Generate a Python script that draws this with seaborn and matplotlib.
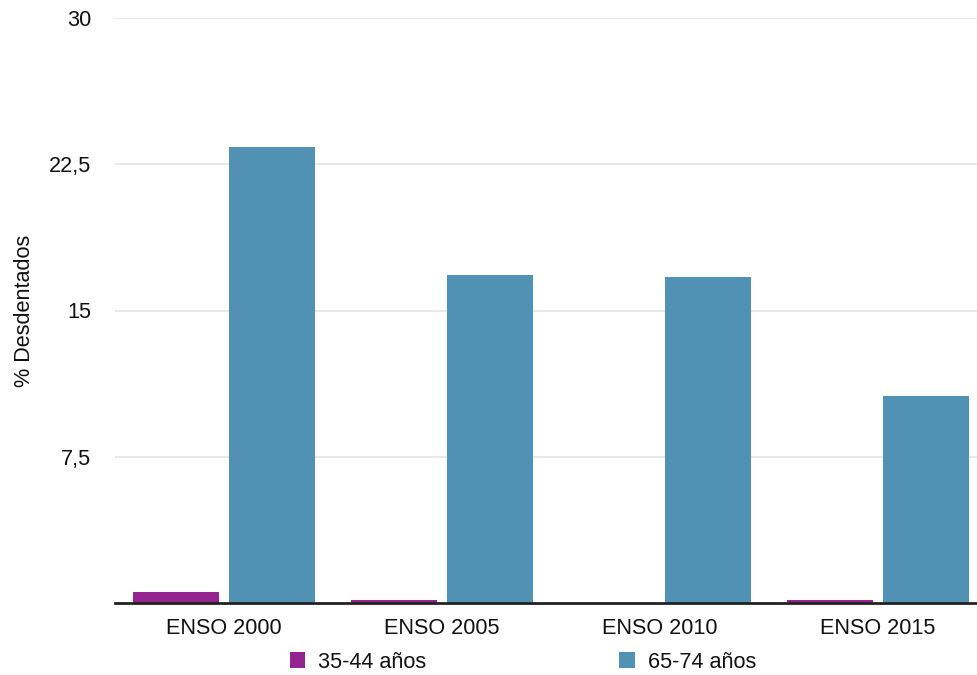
import matplotlib
matplotlib.use("Agg")
import matplotlib.pyplot as plt
import seaborn as sns
import pandas as pd
from matplotlib.patches import Patch

categories = ["ENSO 2000", "ENSO 2005", "ENSO 2010", "ENSO 2015"]
series_names = ["35-44 años", "65-74 años"]
values_35_44 = [0.56, 0.15, 0.0, 0.15]
values_65_74 = [23.4, 16.8, 16.7, 10.6]
colors = ["#92238F", "#5191B3"]
ytick_values = [7.5, 15, 22.5, 30]
ytick_labels = ["7,5", "15", "22,5", "30"]

rows = []
for c, v in zip(categories, values_35_44):
    rows.append({"cat": c, "grupo": series_names[0], "val": v})
for c, v in zip(categories, values_65_74):
    rows.append({"cat": c, "grupo": series_names[1], "val": v})
df = pd.DataFrame(rows)

sns.set_theme(style="white")
plt.rcParams["font.family"] = ["Liberation Sans", "DejaVu Sans"]

W, H = 977, 675
ax_left, ax_w = 115, 872
fig = plt.figure(figsize=(W / 100, H / 100), dpi=100)
ax = fig.add_axes([ax_left / W, 1 - 603 / H, ax_w / W, (603 - 18) / H])

sns.barplot(data=df, x="cat", y="val", hue="grupo", palette=colors,
            width=0.885, gap=0.104, ax=ax, legend=False, errorbar=None,
            saturation=1, linewidth=0)

ax.set_ylim(0, 30)
ax.set_xlim(-0.5, 3.5)
ax.set_yticks(ytick_values)
ax.set_yticklabels(ytick_labels)
ax.yaxis.grid(True, color="#e4e4e4", linewidth=1.2)
ax.set_axisbelow(True)
for s in ["top", "right", "left"]:
    ax.spines[s].set_visible(False)
ax.spines["bottom"].set_color("#222222")
ax.spines["bottom"].set_linewidth(2)
ax.tick_params(axis="y", length=0, pad=17, labelsize=15.6, colors="#111111")
ax.tick_params(axis="x", length=0, pad=11, labelsize=15.6, colors="#111111")
ax.set_xlabel("")
ax.set_ylabel("% Desdentados", fontsize=15.6, color="#111111")
ax.yaxis.set_label_coords(-(ax_left - 35) / ax_w, 0.5)

handles = [Patch(facecolor=colors[0], edgecolor="none"),
           Patch(facecolor=colors[1], edgecolor="none")]
fig.legend(handles, series_names, loc="center", bbox_to_anchor=(523 / W, 1 - 662 / H),
           ncol=2, frameon=False, fontsize=15.6, handlelength=0.7, handleheight=0.7,
           handletextpad=0.6, columnspacing=8.9, labelcolor="#111111")

fig.savefig("out.png", dpi=100)
